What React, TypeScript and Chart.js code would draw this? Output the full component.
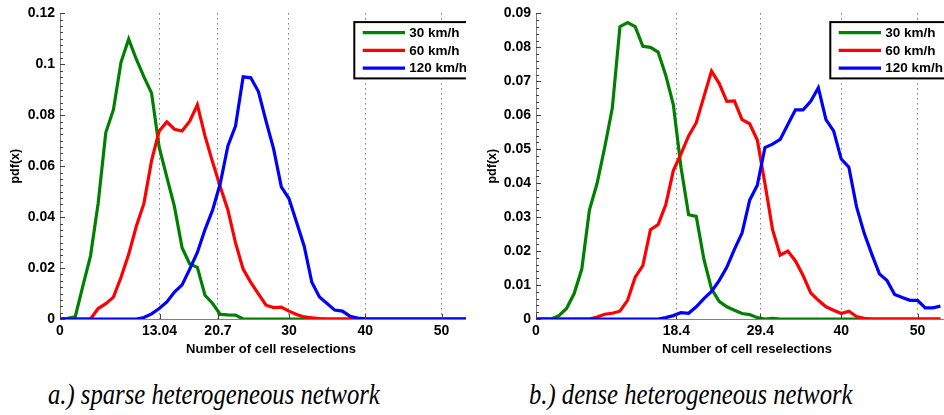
import React, { useEffect, useRef } from 'react';
import { Chart, registerables } from 'chart.js';

Chart.register(...registerables);

const SANS = '"Liberation Sans", Arial, Helvetica, sans-serif';
const SERIF = '"Liberation Serif", "Times New Roman", Times, serif';

// ---------- data ----------
const speedLabels = ['30 km/h', '60 km/h', '120 km/h'];
const speedColors = ['#008000', '#ff0000', '#0000ff'];

const xAxisTitle = 'Number of cell reselections';
const yAxisTitle = 'pdf(x)';
const captionA = 'a.) sparse heterogeneous network';
const captionB = 'b.) dense heterogeneous network';

// a.) sparse heterogeneous network
const sparseCounts = [
  0, 1, 2, 3, 4, 5, 6, 7, 8, 9, 10, 11, 12, 13, 14, 15, 16, 17, 18, 19,
  20, 21, 22, 23, 24, 25, 26, 27, 28, 29, 30, 31, 32, 33, 34, 35, 36, 37, 38, 39,
  40, 41, 42, 43, 44, 45, 46, 47, 48, 49, 50, 51, 52, 53, 54, 55,
];
const sparse30 = [
  0, 0.0003, 0.0009, 0.013, 0.0248, 0.0454, 0.0732, 0.0822, 0.1009, 0.1099,
  0.102, 0.0951, 0.0887, 0.0674, 0.0557, 0.0441, 0.028, 0.0216, 0.0203, 0.0093,
  0.0061, 0.0018, 0.0016, 0.0015, 0, 0, 0, 0, 0, 0,
  0, 0, 0, 0, 0, 0, 0, 0, 0, 0,
  0, 0, 0, 0, 0, 0, 0, 0, 0, 0,
  0, 0, 0, 0, 0, 0,
];
const sparse60 = [
  0, 0, 0, 0, 0, 0.0041, 0.006, 0.0086, 0.0164, 0.0254,
  0.0364, 0.0454, 0.0622, 0.0738, 0.0774, 0.0745, 0.0738, 0.0777, 0.0841, 0.0719,
  0.0616, 0.0519, 0.0428, 0.0299, 0.0196, 0.0144, 0.0099, 0.0054, 0.0045, 0.0047,
  0.0031, 0.0018, 0.0008, 0.0005, 0.0002, 0, 0, 0, 0, 0,
  0, 0, 0, 0, 0, 0, 0, 0, 0, 0,
  0, 0, 0, 0, 0, 0,
];
const sparse120 = [
  0, 0, 0, 0, 0, 0, 0, 0, 0, 0,
  0, 0.0006, 0.002, 0.0041, 0.0067, 0.0106, 0.0134, 0.0196, 0.0261, 0.0351,
  0.0428, 0.0532, 0.068, 0.0758, 0.0951, 0.0947, 0.0893, 0.0777, 0.0667, 0.0519,
  0.0473, 0.038, 0.0286, 0.0144, 0.0086, 0.0061, 0.0035, 0.0031, 0.0011, 0.0004,
  0.0001, 0, 0, 0, 0, 0, 0, 0, 0, 0,
  0, 0, 0, 0, 0, 0,
];
const sparseXTicks = [0, 13.04, 20.7, 30, 40, 50];
const sparseYTicks = [0, 0.02, 0.04, 0.06, 0.08, 0.1, 0.12];

// b.) dense heterogeneous network
const denseCounts = [
  0, 1, 2, 3, 4, 5, 6, 7, 8, 9, 10, 11, 12, 13, 14, 15, 16, 17, 18, 19,
  20, 21, 22, 23, 24, 25, 26, 27, 28, 29, 30, 31, 32, 33, 34, 35, 36, 37, 38, 39,
  40, 41, 42, 43, 44, 45, 46, 47, 48, 49, 50, 51, 52, 53,
];
const dense30 = [
  0, 0, 0, 0.001, 0.0031, 0.0075, 0.0147, 0.0321, 0.0399, 0.0505,
  0.0621, 0.0861, 0.0873, 0.0861, 0.0803, 0.08, 0.0786, 0.0718, 0.0631, 0.0447,
  0.0307, 0.0302, 0.0176, 0.0089, 0.0052, 0.0036, 0.0026, 0.0016, 0.0013, 0.0004,
  0, 0.0002, 0, 0, 0, 0, 0, 0, 0, 0,
  0, 0, 0, 0, 0, 0, 0, 0, 0, 0,
  0, 0, 0, 0,
];
const dense60 = [
  0, 0, 0, 0, 0, 0, 0, 0, 0.0006, 0.0014,
  0.0017, 0.0023, 0.0055, 0.0123, 0.0157, 0.0263, 0.0278, 0.0336, 0.0437, 0.0486,
  0.0539, 0.0578, 0.0655, 0.073, 0.0694, 0.0641, 0.0642, 0.0587, 0.0575, 0.0527,
  0.0399, 0.0263, 0.0188, 0.02, 0.0171, 0.0128, 0.0077, 0.0055, 0.0036, 0.0026,
  0.0016, 0.0023, 0.0007, 0.0002, 0, 0, 0, 0, 0, 0,
  0, 0, 0, 0,
];
const dense120 = [
  0, 0, 0, 0, 0, 0, 0, 0, 0, 0,
  0, 0, 0, 0, 0, 0, 0, 0.0004, 0.001, 0.0019,
  0.0017, 0.0036, 0.006, 0.0081, 0.0113, 0.0152, 0.0205, 0.0253, 0.035, 0.0394,
  0.0505, 0.0515, 0.0529, 0.0573, 0.0616, 0.0616, 0.0641, 0.0681, 0.0587, 0.0554,
  0.0471, 0.0447, 0.0331, 0.0253, 0.0191, 0.0133, 0.0113, 0.0072, 0.0063, 0.0055,
  0.0055, 0.0033, 0.0033, 0.0038,
];
const denseXTicks = [0, 18.4, 29.4, 40, 50];
const denseYTicks = [0, 0.01, 0.02, 0.03, 0.04, 0.05, 0.06, 0.07, 0.08, 0.09];

// ---------- panel ----------
type PanelProps = {
  counts: number[];
  series: number[][];
  xTicks: number[];
  yTicks: number[];
  xMax: number;
  yMinorStep: number;
  width: number;
  height: number;
  plotTop: number;
  plotBottom: number;
  yAxisWidth: number;
  yTitlePad: number;
};

function Panel(p: PanelProps) {
  const ref = useRef<HTMLCanvasElement>(null);

  useEffect(() => {
    const canvas = ref.current;
    if (!canvas) return;
    const yMax = p.yTicks[p.yTicks.length - 1];

    const decor = {
      id: 'matlabDecor',
      afterDraw(chart: any) {
        const { ctx, chartArea, scales } = chart;
        const xs = scales.x;
        const ys = scales.y;
        ctx.save();
        // inward ticks (major + minor) like MATLAB axes
        ctx.strokeStyle = '#404040';
        ctx.lineWidth = 1;
        ctx.beginPath();
        const n = Math.round(yMax / p.yMinorStep);
        for (let i = 0; i <= n; i++) {
          const py = Math.round(ys.getPixelForValue(i * p.yMinorStep)) + 0.5;
          ctx.moveTo(chartArea.left, py);
          ctx.lineTo(chartArea.left + 3, py);
        }
        for (const v of p.yTicks) {
          const py = Math.round(ys.getPixelForValue(v)) + 0.5;
          ctx.moveTo(chartArea.left, py);
          ctx.lineTo(chartArea.left + 5, py);
        }
        for (const v of p.xTicks) {
          const px = Math.round(xs.getPixelForValue(v)) + 0.5;
          ctx.moveTo(px, chartArea.bottom);
          ctx.lineTo(px, chartArea.bottom - 5);
        }
        ctx.stroke();

        // legend box (north-east)
        const boxL = chartArea.right - 127.7;
        const boxT = chartArea.top + 8.7;
        const boxW = 121;
        const boxH = 56.3;
        ctx.fillStyle = '#ffffff';
        ctx.fillRect(boxL, boxT, boxW, boxH);
        ctx.strokeStyle = '#000000';
        ctx.lineWidth = 2;
        ctx.strokeRect(boxL, boxT, boxW, boxH);
        ctx.font = `bold 13.5px ${SANS}`;
        ctx.textBaseline = 'middle';
        ctx.textAlign = 'left';
        chart.data.datasets.forEach((ds: any, i: number) => {
          const ry = boxT + 10.6 + i * 17.7;
          ctx.strokeStyle = ds.borderColor;
          ctx.lineWidth = 3.2;
          ctx.beginPath();
          ctx.moveTo(boxL + 8.4, ry);
          ctx.lineTo(boxL + 50.7, ry);
          ctx.stroke();
          ctx.fillStyle = '#000000';
          ctx.fillText(ds.label, boxL + 55, ry + 0.5);
        });
        ctx.restore();
      },
    };

    const tickFont = { family: SANS, size: 14, weight: 'bold' as const };

    const chart = new Chart(canvas, {
      type: 'line',
      data: {
        datasets: p.series.map((vals, i) => ({
          label: speedLabels[i],
          data: p.counts.map((c, j) => ({ x: c, y: vals[j] })),
          borderColor: speedColors[i],
          backgroundColor: speedColors[i],
          borderWidth: 3.2,
          pointRadius: 0,
          pointHoverRadius: 0,
          tension: 0,
          fill: false,
          order: 2 - i,
          borderJoinStyle: 'miter' as const,
        })),
      },
      options: {
        responsive: false,
        animation: false,
        devicePixelRatio: 1,
        events: [],
        layout: { padding: { top: p.plotTop, left: 0, right: 0, bottom: 0 } },
        plugins: {
          legend: { display: false },
          tooltip: { enabled: false },
        },
        scales: {
          x: {
            type: 'linear',
            min: 0,
            max: p.xMax,
            afterBuildTicks: (s: any) => {
              s.ticks = p.xTicks.map((v) => ({ value: v }));
            },
            afterFit: (s: any) => {
              s.height = p.height - p.plotBottom;
            },
            ticks: {
              autoSkip: false,
              maxRotation: 0,
              padding: 4,
              color: '#000',
              font: tickFont,
              callback: (v: any) => String(v),
            },
            grid: {
              drawTicks: false,
              lineWidth: 1,
              color: (c: any) => (c.tick && c.tick.value === 0 ? 'rgba(0,0,0,0)' : '#3a3a3a'),
            },
            border: { display: true, color: '#808080', width: 1, dash: [1, 4] },
            title: {
              display: true,
              text: xAxisTitle,
              color: '#000',
              font: { family: SANS, size: 13, weight: 'bold' },
              padding: { top: 0, bottom: 3 },
            },
          },
          y: {
            type: 'linear',
            min: 0,
            max: yMax,
            afterBuildTicks: (s: any) => {
              s.ticks = p.yTicks.map((v) => ({ value: v }));
            },
            afterFit: (s: any) => {
              s.width = p.yAxisWidth;
            },
            ticks: {
              autoSkip: false,
              padding: 5,
              color: '#000',
              font: tickFont,
              callback: (v: any) => String(v),
            },
            grid: { display: false, drawTicks: false },
            border: { display: true, color: '#808080', width: 1 },
            title: {
              display: true,
              text: yAxisTitle,
              color: '#000',
              font: { family: SANS, size: 12.5, weight: 'bold' },
              padding: { top: p.yTitlePad, bottom: 0 },
            },
          },
        },
      },
      plugins: [decor],
    });

    return () => chart.destroy();
  }, []);

  return (
    <canvas
      ref={ref}
      width={p.width}
      height={p.height}
      style={{ display: 'block', width: p.width, height: p.height }}
    />
  );
}

const captionStyle: React.CSSProperties = {
  position: 'absolute',
  top: 380,
  fontFamily: SERIF,
  fontStyle: 'italic',
  fontSize: 29,
  lineHeight: '29px',
  whiteSpace: 'nowrap',
  color: '#000',
  transform: 'scaleX(0.85)',
  transformOrigin: 'left top',
};

export default function App() {
  return (
    <div
      style={{
        position: 'absolute',
        left: 0,
        top: 0,
        width: 944,
        height: 415,
        overflow: 'hidden',
        background: '#ffffff',
      }}
    >
      <div style={{ position: 'absolute', left: 0, top: 0, width: 466, height: 360, overflow: 'hidden' }}>
        <Panel
          counts={sparseCounts}
          series={[sparse30, sparse60, sparse120]}
          xTicks={sparseXTicks}
          yTicks={sparseYTicks}
          xMax={55.3}
          yMinorStep={0.0025}
          width={482}
          height={360}
          plotTop={9}
          plotBottom={319}
          yAxisWidth={60}
          yTitlePad={8}
        />
      </div>
      <div style={{ position: 'absolute', left: 472, top: 0, width: 472, height: 360, overflow: 'hidden' }}>
        <Panel
          counts={denseCounts}
          series={[dense30, dense60, dense120]}
          xTicks={denseXTicks}
          yTicks={denseYTicks}
          xMax={55.3}
          yMinorStep={0.002}
          width={486}
          height={360}
          plotTop={9}
          plotBottom={319}
          yAxisWidth={64}
          yTitlePad={13.5}
        />
      </div>
      <div style={{ ...captionStyle, left: 48 }}>{captionA}</div>
      <div style={{ ...captionStyle, left: 529 }}>{captionB}</div>
    </div>
  );
}
